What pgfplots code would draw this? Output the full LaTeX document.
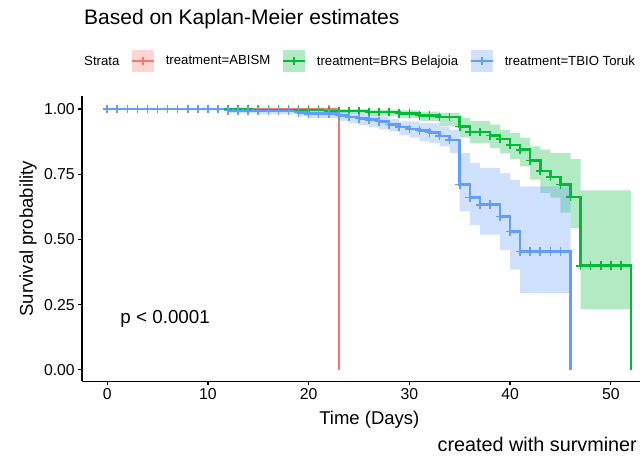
\documentclass[border=0pt]{standalone}
\usepackage{fontspec}
\setmainfont{Liberation Sans}
\usepackage{pgfplots}
\pgfplotsset{compat=1.18}
\usepackage{pgfplotstable}
\usepgfplotslibrary{fillbetween}

\definecolor{kmRed}{HTML}{F8766D}
\definecolor{kmGreen}{HTML}{00BA38}
\definecolor{kmBlue}{HTML}{619CFF}

% Kaplan-Meier steps: t = start of step, S = survival, U/L = 95% band
\pgfplotstableread{
t S
0 1
23 0
}\abism

\pgfplotstableread{
t S U L
0  1.000 1.000 1.000
15 0.997 1.000 0.990
22 0.993 1.000 0.982
26 0.988 0.998 0.975
29 0.983 0.995 0.965
31 0.976 0.990 0.955
33 0.969 0.985 0.935
35 0.933 0.965 0.890
36 0.912 0.955 0.870
38 0.899 0.940 0.850
39 0.885 0.921 0.830
40 0.863 0.908 0.808
41 0.844 0.890 0.780
42 0.802 0.857 0.729
43 0.763 0.844 0.678
44 0.739 0.831 0.660
45 0.710 0.831 0.603
46 0.662 0.808 0.543
47 0.399 0.688 0.233
52 0.000 0.688 0.233
}\brs

\pgfplotstableread{
t S U L
0  1.000 1.000 1.000
12 0.995 1.000 0.985
15 0.992 1.000 0.980
19 0.987 0.997 0.972
20 0.982 0.994 0.965
23 0.976 0.990 0.955
24 0.969 0.985 0.945
25 0.963 0.980 0.937
26 0.959 0.977 0.930
27 0.953 0.972 0.922
28 0.940 0.962 0.914
29 0.931 0.953 0.901
30 0.923 0.953 0.890
31 0.918 0.946 0.876
32 0.910 0.946 0.870
33 0.897 0.933 0.857
34 0.882 0.921 0.831
35 0.710 0.831 0.607
36 0.661 0.793 0.556
37 0.633 0.774 0.518
39 0.588 0.754 0.460
40 0.531 0.729 0.384
41 0.454 0.703 0.294
46 0.000 0.703 0.294
}\tbio

\pgfplotsset{
  km line/.style={const plot, line width=2.5pt, no marks},
  km cens/.style={only marks, mark=+, mark size=4.3pt, mark options={line width=1.6pt}},
  km key/.style={legend image code/.code={
      \fill[fill opacity=0.3, draw=none] (0pt,-11pt) rectangle (22pt,11pt);
      \draw[line width=1.6pt] (0pt,0pt) -- (22pt,0pt);
      \draw[line width=1.6pt] (11pt,-4.3pt) -- (11pt,4.3pt);
  }},
}

\begin{document}
\begin{tikzpicture}

\node[anchor=base west, inner sep=0pt, font=\fontsize{21}{24}\selectfont] at (84pt,432pt) {Based on Kaplan-Meier estimates};
\node[anchor=west, font=\fontsize{13.2}{15}\selectfont, inner sep=0pt] at (84pt,396pt) {Strata};

\begin{axis}[
  at={(82pt,75.5pt)}, anchor=south west,
  scale only axis, width=558pt, height=285.5pt,
  xmin=-2.5, xmax=52.9, ymin=-0.045, ymax=1.05,
  axis x line=bottom, axis y line=left,
  axis line style={-, line width=1.2pt, black},
  tick style={line width=1.2pt, black},
  tick align=outside, major tick length=3.7pt,
  xtick={0,10,20,30,40,50},
  ytick={0,0.25,0.5,0.75,1},
  yticklabel style={/pgf/number format/.cd, fixed, fixed zerofill, precision=2},
  /pgf/number format/assume math mode=true,
  ticklabel style={font=\fontsize{15.8}{18}\selectfont, black},
  xlabel={Time (Days)}, ylabel={Survival probability},
  xlabel style={at={(axis description cs:0.515,-0.15)}, anchor=base, font=\fontsize{18.5}{21}\selectfont},
  ylabel style={at={(axis description cs:-0.0968,0.5)}, anchor=center, font=\fontsize{18.5}{21}\selectfont},
  legend style={at={(0.0878,1.1226)}, anchor=west, draw=none, fill=none,
    inner sep=0pt, legend columns=-1,
    font=\fontsize{13.2}{15}\selectfont,
    /tikz/every even column/.append style={column sep=10pt},
    /tikz/every odd column/.append style={column sep=9pt}},
  clip=false,
]
% confidence bands
\addplot[const plot, draw=none, name path=gU, forget plot] table[x=t,y=U]{\brs};
\addplot[const plot, draw=none, name path=gL, forget plot] table[x=t,y=L]{\brs};
\addplot[kmGreen, fill opacity=0.3, draw=none, forget plot] fill between[of=gU and gL];
\addplot[const plot, draw=none, name path=bU, forget plot] table[x=t,y=U]{\tbio};
\addplot[const plot, draw=none, name path=bL, forget plot] table[x=t,y=L]{\tbio};
\addplot[kmBlue, fill opacity=0.3, draw=none, forget plot] fill between[of=bU and bL];

% survival curves
\addplot[km line, kmRed, forget plot] table[x=t,y=S]{\abism};
\addplot[km line, kmGreen, forget plot] table[x=t,y=S]{\brs};
\addplot[km line, kmBlue, forget plot] table[x=t,y=S]{\tbio};

% censoring marks
\addplot[km cens, kmRed, forget plot] coordinates {
(0,1)(1,1)(2,1)(3,1)(4,1)(5,1)(6,1)(7,1)(8,1)(9,1)(10,1)(11,1)
(12,1)(13,1)(14,1)(15,1)(16,1)(17,1)(18,1)(19,1)(20,1)(21,1)(22,1)};
\addplot[km cens, kmGreen, forget plot] coordinates {
(0,1)(1,1)(2,1)(3,1)(4,1)(5,1)(6,1)(7,1)(8,1)(9,1)(10,1)(11,1)(12,1)(13,1)(14,1)
(15,0.997)(16,0.997)(17,0.997)(18,0.997)(19,0.997)(20,0.997)(21,0.997)
(22,0.993)(23,0.993)(24,0.993)(25,0.993)
(26,0.988)(27,0.988)(28,0.988)(29,0.983)(30,0.983)
(31,0.976)(32,0.976)(33,0.969)(34,0.969)
(35,0.933)(36,0.912)(37,0.912)(38,0.899)(39,0.885)(40,0.863)
(41,0.844)(42,0.802)(43,0.763)(44,0.739)(45,0.710)(46,0.662)
(47,0.399)(48,0.399)(49,0.399)(50,0.399)(51,0.399)};
\addplot[km cens, kmBlue, forget plot] coordinates {
(0,1)(1,1)(2,1)(3,1)(4,1)(5,1)(6,1)(7,1)(8,1)(9,1)(10,1)(11,1)
(12,0.995)(13,0.995)(14,0.995)(15,0.992)(16,0.992)(17,0.992)(18,0.992)
(19,0.987)(20,0.982)(21,0.982)(22,0.982)(23,0.976)(24,0.969)(25,0.963)
(26,0.959)(27,0.953)(28,0.940)(29,0.931)(30,0.923)(31,0.918)(32,0.910)
(33,0.897)(34,0.882)(35,0.710)(36,0.661)(37,0.633)(38,0.633)(39,0.588)
(40,0.531)(41,0.454)(42,0.454)(43,0.454)(44,0.454)(45,0.454)};

% legend keys
\addlegendimage{km key, kmRed}
\addlegendentry{treatment=ABISM}
\addlegendimage{km key, kmGreen}
\addlegendentry{treatment=BRS Belajoia}
\addlegendimage{km key, kmBlue}
\addlegendentry{treatment=TBIO Toruk}

\node[anchor=base west, inner sep=0pt, font=\fontsize{18.8}{22}\selectfont] at (axis cs:1.3,0.176) {p < 0.0001};
\end{axis}

\node[anchor=base east, inner sep=0pt, font=\fontsize{19.8}{23}\selectfont] at (637pt,5pt) {created with survminer};

% page frame
\pgfresetboundingbox
\useasboundingbox (0,0) rectangle (640pt,457pt);
\end{tikzpicture}
\end{document}
